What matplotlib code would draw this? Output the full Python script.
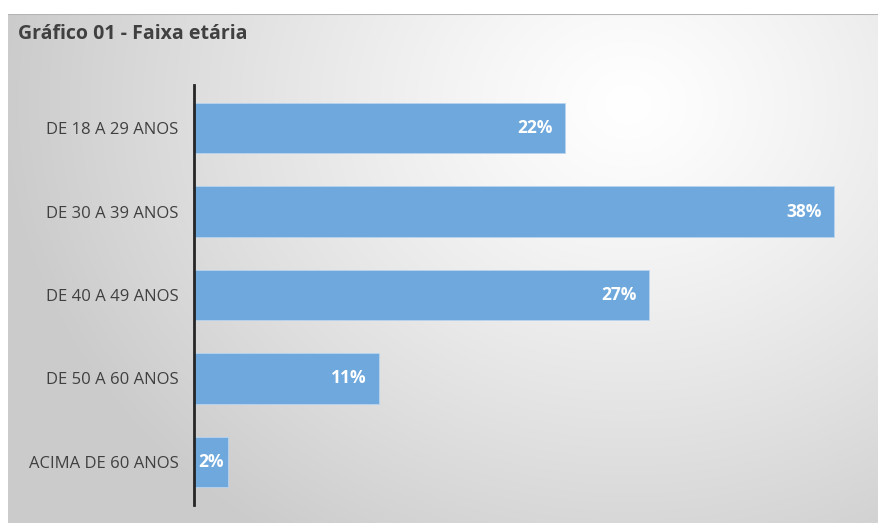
import numpy as np
import matplotlib.pyplot as plt

categorias = ['DE 18 A 29 ANOS', 'DE 30 A 39 ANOS', 'DE 40 A 49 ANOS',
              'DE 50 A 60 ANOS', 'ACIMA DE 60 ANOS']
valores = [22, 38, 27, 11, 2]
titulo = 'Gráfico 01 - Faixa etária'

W, H = 879, 523
plt.rcParams['font.family'] = ['Open Sans', 'DejaVu Sans']
fig = plt.figure(figsize=(W / 100, H / 100), dpi=100)

# fundo com gradiente radial (estilo Excel)
bg = fig.add_axes([8 / W, 0, 1 - 8 / W, 1 - 14 / H])
bg.set_axis_off()
yy, xx = np.mgrid[0:509, 0:871]
d = np.sqrt(((xx - 620) / 620.0) ** 2 + ((yy - 90) / 520.0) ** 2)
d = np.clip(d, 0, 1)
g = 1.0 - 0.2 * d ** 1.2
bg.imshow(np.dstack([g, g, g]), aspect='auto', extent=(0, 1, 0, 1), origin='upper')
bg.set_xlim(0, 1)
bg.set_ylim(0, 1)
bg.plot([0, 1], [1, 1], color='#b4b4b4', lw=1.5, transform=bg.transAxes)

bg.text(10 / 871, 1 - 20 / 509, titulo, transform=bg.transAxes, fontsize=14,
        fontweight='bold', color='#404040', va='center', ha='left')

# eixo principal
left, right = 194, 868
top, bottom = 85, 505
ax = fig.add_axes([left / W, 1 - bottom / H, (right - left) / W, (bottom - top) / H])
ax.patch.set_alpha(0)
y = np.arange(len(categorias))
ax.barh(y, valores, height=0.6, color='#6fa8dc', edgecolor='#b8d4ee', linewidth=0.6)
ax.set_xlim(0, 40)
ax.set_ylim(len(categorias) - 0.485, -0.515)
ax.set_yticks(y)
ax.set_yticklabels(categorias, fontsize=12, color='#404040')
ax.tick_params(axis='y', length=0, pad=11)
ax.set_xticks([])
for s in ['top', 'right', 'bottom']:
    ax.spines[s].set_visible(False)
ax.spines['left'].set_color('#262626')
ax.spines['left'].set_linewidth(2)

# rótulos dentro da barra (barra curta: encosta no início)
for yi, v in zip(y, valores):
    if v < 5:
        ax.annotate(f'{v}%', (0, yi), xytext=(3, 0), textcoords='offset points',
                    ha='left', va='center', color='white', fontsize=12.5, fontweight='bold')
    else:
        ax.annotate(f'{v}%', (v, yi), xytext=(-9, 0), textcoords='offset points',
                    ha='right', va='center', color='white', fontsize=12.5, fontweight='bold')

fig.savefig('out.png', dpi=100, facecolor='white')
